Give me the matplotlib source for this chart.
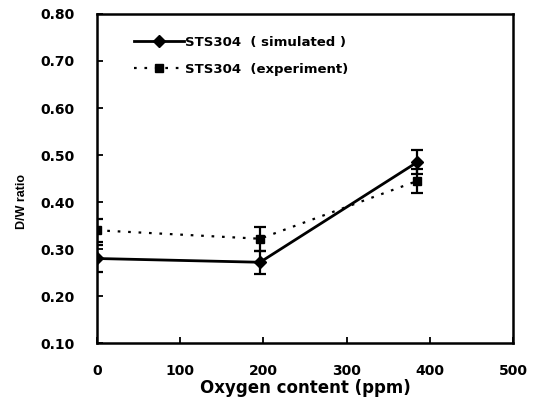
import matplotlib.pyplot as plt

oxygen = [0, 196, 385]
sim_ratio = [0.280, 0.272, 0.485]
sim_err = [0.028, 0.025, 0.025]
exp_ratio = [0.340, 0.322, 0.445]
exp_err = [0.025, 0.026, 0.025]

plt.rcParams['font.family'] = ['DejaVu Sans']
plt.rcParams['font.weight'] = 'bold'

fig = plt.figure(figsize=(5.35, 3.99), dpi=100)
ax = fig.add_axes([0.181, 0.140, 0.778, 0.825])

# error bars drawn separately so the legend shows just line + marker
ax.errorbar(oxygen, sim_ratio, yerr=sim_err, fmt='none', ecolor='black',
            capsize=4, elinewidth=1.6, capthick=1.6)
ax.errorbar(oxygen, exp_ratio, yerr=exp_err, fmt='none', ecolor='black',
            capsize=4, elinewidth=1.6, capthick=1.6)
ax.plot(oxygen, sim_ratio, color='black', lw=2.0, marker='D', ms=6,
        label='STS304  ( simulated )')
ax.plot(oxygen, exp_ratio, color='black', lw=1.6, ls=(0, (1.2, 3.5)),
        marker='s', ms=6, label='STS304  (experiment)')

ax.set_xlim(0, 500)
ax.set_ylim(0.1, 0.8)
ax.set_xticks([0, 100, 200, 300, 400, 500])
ax.set_yticks([0.1, 0.2, 0.3, 0.4, 0.5, 0.6, 0.7, 0.8])
ax.set_yticklabels(['0.10', '0.20', '0.30', '0.40', '0.50', '0.60', '0.70', '0.80'])
ax.tick_params(direction='in', length=4, width=1.3, labelsize=10)
ax.tick_params(axis='x', pad=15)
ax.tick_params(axis='y', pad=16)
for s in ax.spines.values():
    s.set_linewidth(1.8)

ax.set_xlabel('Oxygen content (ppm)', fontsize=12, fontweight='bold', labelpad=1)
ax.set_ylabel('D/W ratio', family='Liberation Sans', fontsize=9,
              fontweight='bold')
ax.yaxis.set_label_coords(-0.166, 0.43)

ax.legend(loc='upper left', bbox_to_anchor=(0.06, 0.97), frameon=False,
          fontsize=9.5, handlelength=3.8, handletextpad=0.1, labelspacing=1.05)

fig.savefig('out.png', dpi=100)
